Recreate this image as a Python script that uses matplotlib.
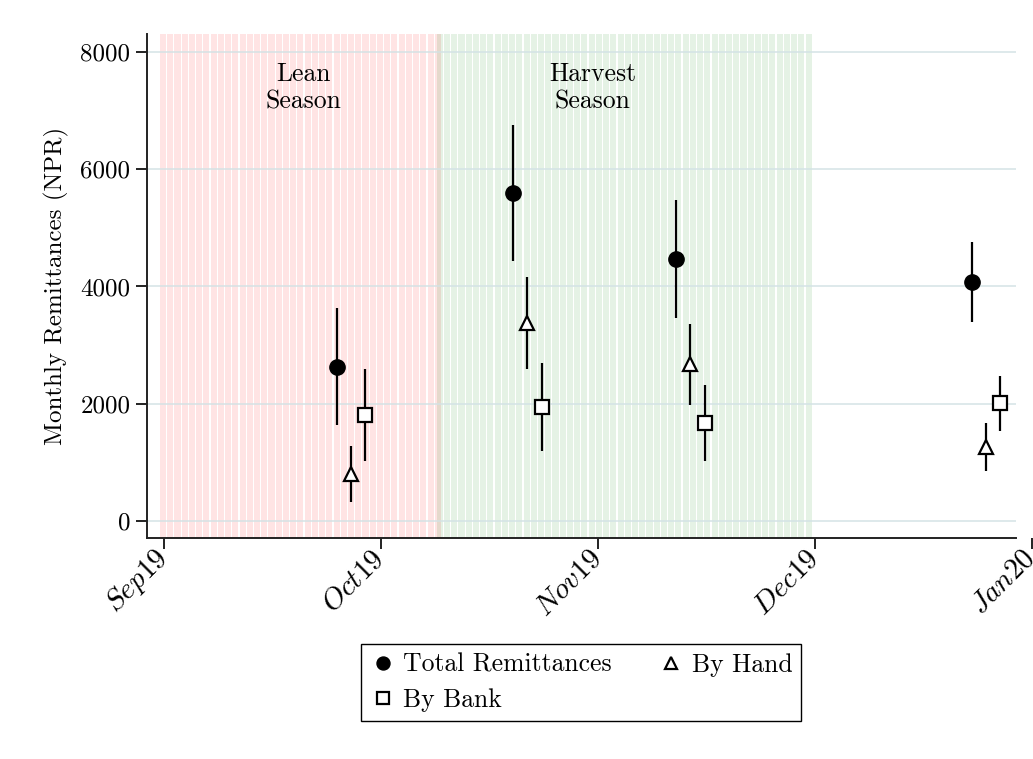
import numpy as np
import matplotlib
matplotlib.use("Agg")
import matplotlib.pyplot as plt

plt.rcParams['font.family'] = ['cmr10', 'DejaVu Serif']
plt.rcParams['mathtext.fontset'] = 'cm'
plt.rcParams['axes.unicode_minus'] = False
plt.rcParams['axes.formatter.use_mathtext'] = True

# ---- data (x in months since Sep 2019) ----
month_ticks = [0, 1, 2, 3, 4]
month_labels = ['Sep19', 'Oct19', 'Nov19', 'Dec19', 'Jan20']

total_x = [0.799, 1.610, 2.363, 3.725]
total_y = [2625, 5600, 4469, 4071]
total_lo = [1630, 4440, 3463, 3400]
total_hi = [3630, 6755, 5475, 4759]

hand_x = [0.863, 1.674, 2.424, 3.788]
hand_y = [810, 3383, 2678, 1268]
hand_lo = [318, 2593, 1979, 858]
hand_hi = [1285, 4162, 3360, 1672]

bank_x = [0.929, 1.741, 2.493, 3.854]
bank_y = [1808, 1950, 1672, 2007]
bank_lo = [1023, 1194, 1023, 1535]
bank_hi = [2587, 2690, 2320, 2479]

lean_start, lean_days = -0.018, 39
harvest_start, harvest_days = 1.258, 52
day = 1 / 30

yticks = [0, 2000, 4000, 6000, 8000]

# ---- figure ----
W, H = 1033, 759
fig = plt.figure(figsize=(W / 100, H / 100), dpi=100)
ax = fig.add_axes([147 / W, 1 - 538 / H, 885 / W, 504 / H])

ylo, yhi = -290, 8307
xlo, xhi = -0.078, 4.002
ax.set_xlim(xlo, xhi)
ax.set_ylim(ylo, yhi)

lean_x = lean_start + np.arange(lean_days) * day
harv_x = harvest_start + np.arange(harvest_days) * day
ax.bar(lean_x, yhi - ylo, bottom=ylo, width=day * 0.84, align='edge',
       color=(1, 0, 0, 0.105), linewidth=0, zorder=1)
ax.bar(harv_x, yhi - ylo, bottom=ylo, width=day * 0.84, align='edge',
       color=(0, 0.5, 0, 0.10), linewidth=0, zorder=1)

grid_end = 3.93
ax.hlines(yticks, xlo, grid_end, colors='#d3e2e5', linewidth=1.4, alpha=0.75, zorder=2)

lw = 1.6
ax.vlines(total_x, total_lo, total_hi, colors='black', linewidth=lw, zorder=3)
ax.vlines(hand_x, hand_lo, hand_hi, colors='black', linewidth=lw, zorder=3)
ax.vlines(bank_x, bank_lo, bank_hi, colors='black', linewidth=lw, zorder=3)

h_total, = ax.plot(total_x, total_y, 'o', color='black', markersize=11,
                   linestyle='none', zorder=4, label='Total Remittances')
h_hand, = ax.plot(hand_x, hand_y, '^', markerfacecolor='white', markeredgecolor='black',
                  markeredgewidth=1.6, markersize=10.5, linestyle='none', zorder=4,
                  label='By Hand')
h_bank, = ax.plot(bank_x, bank_y, 's', markerfacecolor='white', markeredgecolor='black',
                  markeredgewidth=1.6, markersize=10, linestyle='none', zorder=4,
                  label='By Bank')

ax.text(0.645, 7390, 'Lean\nSeason', ha='center', va='center', fontsize=18.5,
        linespacing=1.2, zorder=5)
ax.text(1.977, 7390, 'Harvest\nSeason', ha='center', va='center', fontsize=18.5,
        linespacing=1.2, zorder=5)

for s in ['top', 'right']:
    ax.spines[s].set_visible(False)
for s in ['left', 'bottom']:
    ax.spines[s].set_linewidth(1.4)
    ax.spines[s].set_color('#222222')
ax.spines['bottom'].set_bounds(xlo, grid_end)

ax.set_yticks(yticks)
ax.set_yticklabels([str(v) for v in yticks], fontsize=18)
ax.set_xticks(month_ticks)
ax.set_xticklabels([r'$\mathit{' + m + '}$' for m in month_labels], fontsize=21,
                   rotation=45, ha='right', va='center', rotation_mode='anchor')
ax.tick_params(axis='both', length=8, width=1.4, color='#222222')
ax.tick_params(axis='y', pad=4)
ax.tick_params(axis='x', pad=4)
ax.set_ylabel('Monthly Remittances (NPR)', fontsize=18, labelpad=8)

leg = fig.legend([h_total, h_bank, h_hand], ['Total Remittances', 'By Bank', 'By Hand'],
                 loc='center', bbox_to_anchor=(581 / W, 1 - 682.5 / H), ncol=2,
                 frameon=True, fancybox=False, edgecolor='black', framealpha=1,
                 fontsize=18.5, handletextpad=0.3, columnspacing=1.8,
                 handlelength=1.0, borderpad=0.35, labelspacing=0.45,
                 markerscale=0.85)
leg.get_frame().set_linewidth(1.0)

fig.savefig('out.png', dpi=100)
